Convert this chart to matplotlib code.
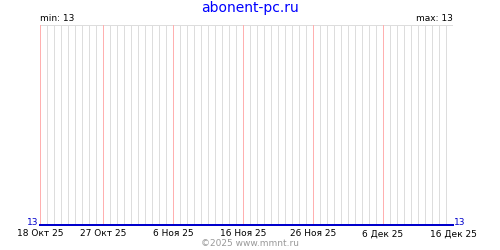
import datetime as dt
import matplotlib
matplotlib.use("Agg")
import matplotlib.pyplot as plt

# data
start_date = dt.date(2025, 10, 18)
end_date = dt.date(2025, 12, 16)
values = [13, 13, 13, 13, 13, 13, 13, 13, 13, 13,
          13, 13, 13, 13, 13, 13, 13, 13, 13, 13,
          13, 13, 13, 13, 13, 13, 13, 13, 13, 13,
          13, 13, 13, 13, 13, 13, 13, 13, 13, 13,
          13, 13, 13, 13, 13, 13, 13, 13, 13, 13,
          13, 13, 13, 13, 13, 13, 13, 13, 13, 13]
tick_dates = [dt.date(2025, 10, 18), dt.date(2025, 10, 27), dt.date(2025, 11, 6),
              dt.date(2025, 11, 16), dt.date(2025, 11, 26), dt.date(2025, 12, 6),
              dt.date(2025, 12, 16)]
tick_labels = ["18 Окт 25", "27 Окт 25", "6 Ноя 25", "16 Ноя 25",
               "26 Ноя 25", "6 Дек 25", "16 Дек 25"]
title = "abonent-pc.ru"
footer = "©2025 www.mmnt.ru"

days = [start_date + dt.timedelta(days=i) for i in range(len(values))]
vmin, vmax = min(values), max(values)

PX = 0.72  # one pixel in points at dpi 100

plt.rcParams['font.family'] = ['DejaVu Sans']
fig = plt.figure(figsize=(5, 2.5), dpi=100)
ax = fig.add_axes([0.08, 0.1, 0.826, 0.8])

# daily grid lines, pink ones at labelled dates
for d in days:
    if d not in tick_dates:
        ax.axvline(d, color='#dddddd', lw=PX, zorder=1, snap=True)
for d in tick_dates:
    ax.axvline(d, color='#ffb0b0', lw=PX, zorder=2, snap=True)
ax.axhline(vmax + 1, color='#dddddd', lw=PX, zorder=1, snap=True)

ax.plot(days, values, color='#0000cc', lw=2 * PX, zorder=3, clip_on=False,
        snap=True)

ax.set_xlim(start_date, end_date)
ax.set_ylim(vmin, vmax + 1)
for s in ax.spines.values():
    s.set_visible(False)
ax.set_yticks([])
ax.set_xticks(tick_dates)
ax.set_xticklabels(tick_labels, fontsize=6.5)
ax.tick_params(axis='x', length=0, pad=3)

ax.annotate(str(vmin), (0, 0), xycoords='axes fraction', xytext=(-1, 1.5),
            textcoords='offset points', color='#0000cc', fontsize=6.5,
            ha='right', va='center')
ax.annotate(str(values[-1]), (1, 0), xycoords='axes fraction', xytext=(1, 1.5),
            textcoords='offset points', color='#0000cc', fontsize=6.5,
            ha='left', va='center')
ax.text(0.0, 1.01, f"min: {vmin}", transform=ax.transAxes, fontsize=6.5,
        ha='left', va='bottom')
ax.text(1.0, 1.01, f"max: {vmax}", transform=ax.transAxes, fontsize=6.5,
        ha='right', va='bottom')

fig.text(0.5, 0.968, title, color='#0000ff', fontsize=10, ha='center', va='center')
fig.text(0.5, 0.028, footer, color='#999999', fontsize=6.5, ha='center', va='center')

fig.savefig("out.png", dpi=100)
